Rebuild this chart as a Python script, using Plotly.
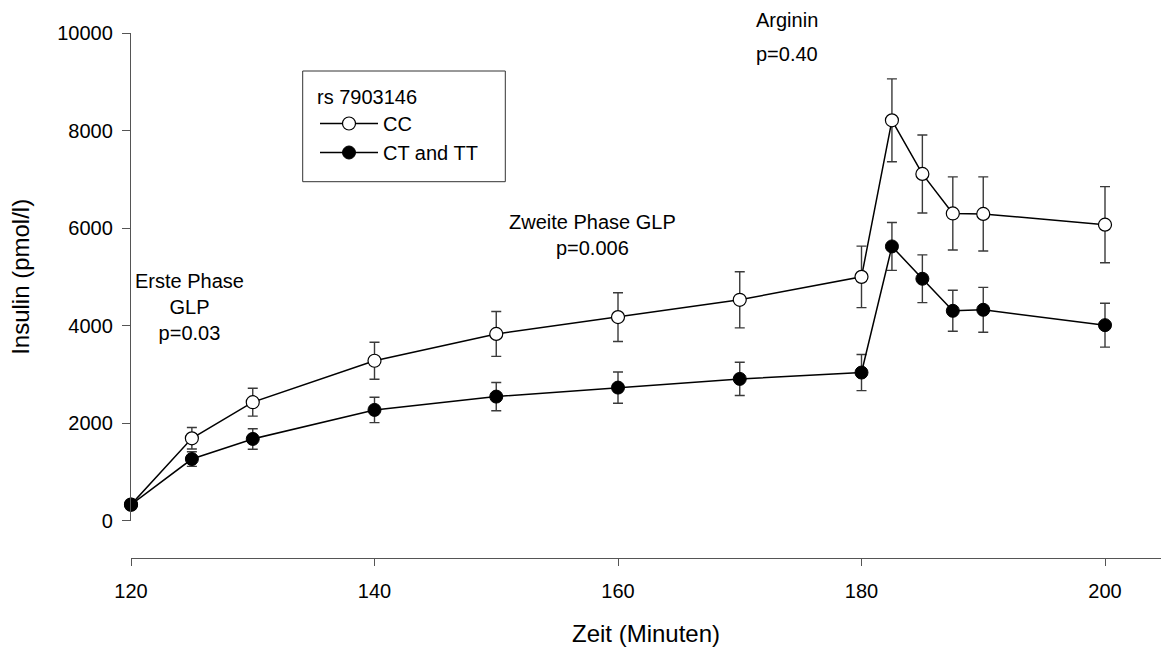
import plotly.graph_objects as go

# ---- data ----
time_min = [120, 125, 130, 140, 150, 160, 170, 180, 182.5, 185, 187.5, 190, 200]
cc_insulin = [330, 1690, 2430, 3280, 3830, 4175, 4530, 5000, 8210, 7110, 6300, 6290, 6070]
cc_sem = [60, 220, 285, 380, 460, 500, 575, 630, 850, 800, 750, 760, 780]
ct_tt_insulin = [330, 1265, 1677, 2272, 2545, 2730, 2908, 3038, 5624, 4961, 4304, 4325, 4010]
ct_tt_sem = [60, 150, 210, 260, 290, 320, 340, 370, 490, 490, 420, 460, 450]

x_ticks = [120, 140, 160, 180, 200]
y_ticks = [0, 2000, 4000, 6000, 8000, 10000]
y_tick_labels = ["0", "2000", "4000", "6000", "8000", "10000"]

series_names = ["CC", "CT and TT"]
legend_title = "rs 7903146"

FONT = "Liberation Sans, Arial, sans-serif"
AXIS_COL = "#555555"

fig = go.Figure()

fig.add_trace(go.Scatter(
    x=time_min, y=cc_insulin, name=series_names[0], mode="lines+markers",
    line=dict(color="black", width=1.5),
    marker=dict(symbol="circle", size=13, color="white", line=dict(color="black", width=1.2)),
    error_y=dict(type="data", array=cc_sem, visible=True, color="#3a3a3a", thickness=1.4, width=5),
    cliponaxis=False,
))
fig.add_trace(go.Scatter(
    x=time_min, y=ct_tt_insulin, name=series_names[1], mode="lines+markers",
    line=dict(color="black", width=1.5),
    marker=dict(symbol="circle", size=13, color="black", line=dict(color="black", width=1)),
    error_y=dict(type="data", array=ct_tt_sem, visible=True, color="#3a3a3a", thickness=1.4, width=5),
    cliponaxis=False,
))

ann_font = dict(family=FONT, size=20, color="black")
annotations = [
    dict(x=124.83, y=4386, yref="y", text="Erste Phase<br>GLP<br>p=0.03"),
    dict(x=157.93, y=5864, yref="y", text="Zweite Phase GLP<br>p=0.006"),
    dict(x=173.9, y=1.0248, yref="paper", text="Arginin"),
    dict(x=173.9, y=0.9600, yref="paper", text="p=0.40"),
]
for a in annotations:
    a.update(xref="x", showarrow=False, font=ann_font,
             xanchor="center", yanchor="middle", align="center")

# legend frame (decoration around the native legend)
shapes = [dict(type="rect", xref="paper", yref="paper",
               x0=(302.7 - 131) / 1030, x1=(505.3 - 131) / 1030,
               y0=(558 - 181.7) / 525, y1=(558 - 71) / 525,
               line=dict(color="#333333", width=1), fillcolor="rgba(0,0,0,0)", layer="above")]

fig.update_layout(
    width=1161, height=647,
    margin=dict(l=131, r=0, t=33, b=89, pad=0),
    paper_bgcolor="white", plot_bgcolor="white",
    font=dict(family=FONT, size=20, color="black"),
    showlegend=True,
    legend=dict(
        x=(315 - 131) / 1030, y=(558 - 78) / 525, xanchor="left", yanchor="top",
        borderwidth=0, bgcolor="rgba(255,255,255,0)",
        title=dict(text=legend_title, font=dict(family=FONT, size=20, color="black")),
        font=dict(family=FONT, size=20, color="black"),
        itemwidth=58,
    ),
    annotations=annotations,
    shapes=shapes,
    xaxis=dict(
        range=[120, 204.6], anchor="free", position=0,
        tickvals=x_ticks, ticks="outside", ticklen=7, tickwidth=1.2, tickcolor=AXIS_COL,
        showline=True, linecolor=AXIS_COL, linewidth=1.3,
        showgrid=False, zeroline=False,
        tickfont=dict(family=FONT, size=20, color="black"),
        ticklabelstandoff=8,
        title=dict(text="Zeit (Minuten)", font=dict(family=FONT, size=24, color="black"), standoff=24),
    ),
    yaxis=dict(
        domain=[0.071, 1], range=[0, 10000],
        tickvals=y_ticks, ticktext=y_tick_labels, ticks="outside", ticklen=8, tickwidth=1.2,
        tickcolor=AXIS_COL,
        showline=True, linecolor=AXIS_COL, linewidth=1.3,
        showgrid=False, zeroline=False,
        tickfont=dict(family=FONT, size=20, color="black"),
        ticklabelstandoff=5,
        title=dict(text="Insulin (pmol/l)", font=dict(family=FONT, size=24, color="black"), standoff=20),
    ),
)

fig.write_html("out.html")
